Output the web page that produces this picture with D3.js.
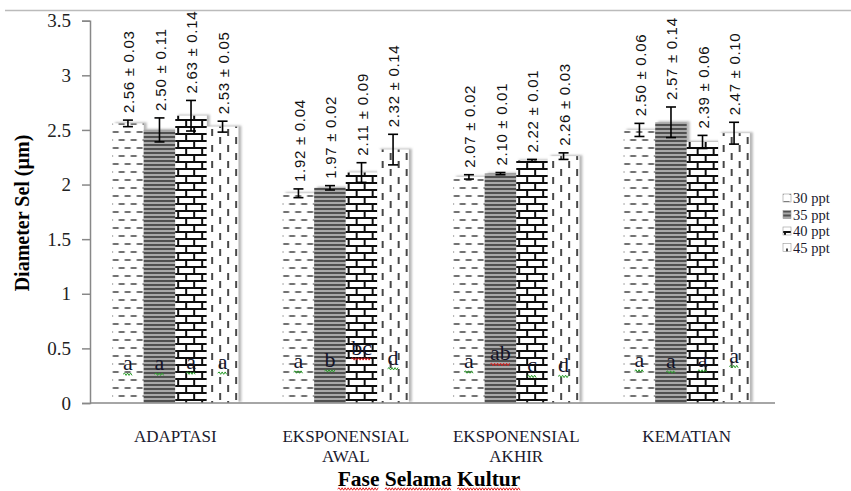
<!DOCTYPE html>
<html><head><meta charset="utf-8">
<script src="https://cdn.jsdelivr.net/npm/d3@7"></script>
<style>body{margin:0;background:#fff}svg{display:block}</style>
</head><body>
<svg id="c" width="851" height="491"></svg>
<script>
// ---- data ----
const categories = ["ADAPTASI", "EKSPONENSIAL AWAL", "EKSPONENSIAL AKHIR", "KEMATIAN"];
const seriesNames = ["30 ppt", "35 ppt", "40 ppt", "45 ppt"];
const mean30 = [2.56, 1.92, 2.07, 2.50];
const mean35 = [2.50, 1.97, 2.10, 2.57];
const mean40 = [2.63, 2.11, 2.22, 2.39];
const mean45 = [2.53, 2.32, 2.26, 2.47];
const err30 = [0.03, 0.04, 0.02, 0.06];
const err35 = [0.11, 0.02, 0.01, 0.14];
const err40 = [0.14, 0.09, 0.01, 0.06];
const err45 = [0.05, 0.14, 0.03, 0.10];
const let30 = ["a", "a", "a", "a"];
const let35 = ["a", "b", "ab", "a"];
const let40 = ["a", "bc", "c", "a"];
const let45 = ["a", "d", "d", "a"];
const yTickValues = [0, 0.5, 1, 1.5, 2, 2.5, 3, 3.5];
const yTickLabels = ["0", "0.5", "1", "1.5", "2", "2.5", "3", "3.5"];
const yTitle = "Diameter Sel (µm)";
const xTitle = "Fase Selama Kultur";

// ---- layout (not data) ----
const letterLevel = [ // baseline height of significance letters, in axis units
  [0.30, 0.30, 0.31, 0.31], [0.32, 0.33, 0.44, 0.35],
  [0.32, 0.39, 0.28, 0.28], [0.33, 0.32, 0.33, 0.37]];

const means = [mean30, mean35, mean40, mean45];
const errs = [err30, err35, err40, err45];
const lets = [let30, let35, let40, let45];
const patIds = ["p30", "p35", "p40", "p45"];

const svg = d3.select("#c");
const X0 = 90, X1 = 772, Y0 = 403, Y1 = 20.7;

const defs = svg.append("defs");
// 30 ppt: dashed horizontal
let p = defs.append("pattern").attr("id", "p30").attr("patternUnits", "userSpaceOnUse").attr("width", 12).attr("height", 16);
p.append("rect").attr("width", 12).attr("height", 16).attr("fill", "#fff");
p.append("path").attr("d", "M0.5,4H6.5M6.5,12H12M0,12H0.5").attr("stroke", "#444").attr("stroke-width", 1.7);
// 35 ppt: narrow horizontal
p = defs.append("pattern").attr("id", "p35").attr("patternUnits", "userSpaceOnUse").attr("width", 8).attr("height", 4);
p.append("rect").attr("width", 8).attr("height", 4).attr("fill", "#a8a8a8");
p.append("line").attr("x1", 0).attr("x2", 8).attr("y1", 1).attr("y2", 1).attr("stroke", "#3a3a3a").attr("stroke-width", 1.6);
// 40 ppt: brick
p = defs.append("pattern").attr("id", "p40").attr("patternUnits", "userSpaceOnUse").attr("width", 16).attr("height", 14);
p.append("rect").attr("width", 16).attr("height", 14).attr("fill", "#fff");
p.append("path").attr("d", "M0,1H16M0,8H16M2,1V8M10,8V14").attr("stroke", "#111").attr("stroke-width", 2).attr("fill", "none");
// 45 ppt: dashed vertical
p = defs.append("pattern").attr("id", "p45").attr("patternUnits", "userSpaceOnUse").attr("width", 16).attr("height", 16);
p.append("rect").attr("width", 16).attr("height", 16).attr("fill", "#fff");
p.append("line").attr("x1", 4).attr("x2", 4).attr("y1", 1).attr("y2", 8).attr("stroke", "#333").attr("stroke-width", 1.8);
p.append("line").attr("x1", 12).attr("x2", 12).attr("y1", 9).attr("y2", 16).attr("stroke", "#333").attr("stroke-width", 1.8);

const f = defs.append("filter").attr("id", "sh").attr("x", "-10%").attr("y", "-10%").attr("width", "130%").attr("height", "120%");
f.append("feDropShadow").attr("dx", 3).attr("dy", -1).attr("stdDeviation", 1.2).attr("flood-color", "#888").attr("flood-opacity", 0.6);

// top border line
svg.append("line").attr("x1", 5).attr("x2", 851).attr("y1", 10.5).attr("y2", 10.5).attr("stroke", "#bbb").attr("stroke-width", 1.5);

const x0 = d3.scaleBand().domain(categories).range([X0, X1]).paddingInner(0.26).paddingOuter(0.13);
const x1 = d3.scaleBand().domain(seriesNames).range([0, x0.bandwidth()]);
const y = d3.scaleLinear().domain([0, 3.5]).range([Y0, Y1]);

// y axis
const yAxis = svg.append("g").attr("transform", `translate(${X0},0)`)
  .call(d3.axisLeft(y).tickValues(yTickValues).tickFormat((d, i) => yTickLabels[i]).tickSize(8).tickPadding(11));
yAxis.select(".domain").attr("stroke", "#888").attr("stroke-width", 1.5);
yAxis.selectAll(".tick line").attr("stroke", "#888").attr("stroke-width", 1.5);
yAxis.selectAll("text").attr("font-family", "Liberation Serif").attr("font-size", 19).attr("fill", "#222");

function squiggle(g, xa, xb, yy, col) {
  let d = `M${xa},${yy}`, up = true;
  for (let xx = xa + 1.5; xx <= xb + 0.01; xx += 1.5) { d += `L${xx},${yy + (up ? -1.2 : 1.2)}`; up = !up; }
  g.append("path").attr("d", d).attr("fill", "none").attr("stroke", col).attr("stroke-width", 1);
}

// bars
const groups = svg.append("g").selectAll("g").data(categories).join("g")
  .attr("transform", d => `translate(${x0(d)},0)`);
groups.each(function(cat, ci) {
  const g = d3.select(this);
  const bars = g.append("g").attr("filter", "url(#sh)");
  seriesNames.forEach((s, si) => {
    bars.append("rect").attr("x", x1(s)).attr("width", x1.bandwidth())
      .attr("y", y(means[si][ci])).attr("height", Y0 - y(means[si][ci]))
      .attr("fill", `url(#${patIds[si]})`);
  });
  seriesNames.forEach((s, si) => {
    const cx = x1(s) + x1.bandwidth() / 2;
    const v = means[si][ci], e = errs[si][ci];
    const eb = g.append("g").attr("stroke", "#000").attr("stroke-width", 1.6);
    eb.append("line").attr("x1", cx).attr("x2", cx).attr("y1", y(v - e)).attr("y2", y(v + e));
    eb.append("line").attr("x1", cx - 5).attr("x2", cx + 5).attr("y1", y(v - e)).attr("y2", y(v - e));
    eb.append("line").attr("x1", cx - 5).attr("x2", cx + 5).attr("y1", y(v + e)).attr("y2", y(v + e));
    // value label
    const ly = y(v + e) - 7;
    g.append("text").attr("transform", `translate(${cx + 1},${ly}) rotate(-90)`)
      .attr("dy", "0.35em").attr("font-family", "Liberation Sans").attr("font-size", 15)
      .attr("textLength", 82).attr("lengthAdjust", "spacing")
      .attr("fill", "#111").text(d3.format(".2f")(v) + " ± " + d3.format(".2f")(e));
    // significance letter
    const lt = lets[si][ci];
    const by = y(letterLevel[ci][si]);
    const t = g.append("text").attr("x", cx).attr("y", by).attr("text-anchor", "middle")
      .attr("font-family", "Liberation Serif").attr("font-size", 22).attr("fill", "#14142a").text(lt);
    const w = t.node().getComputedTextLength();
    squiggle(g, cx - w / 2, cx + w / 2, by + 4, lt.length > 1 ? "#e02020" : "#2a9d2a");
  });
});

// x axis line
svg.append("line").attr("x1", X0).attr("x2", 775).attr("y1", Y0).attr("y2", Y0).attr("stroke", "#888").attr("stroke-width", 1.5);

// category labels
categories.forEach(c => {
  const parts = c.split(" ");
  const t = svg.append("text").attr("text-anchor", "middle").attr("font-family", "Liberation Serif")
    .attr("font-size", 17).attr("fill", "#1a1a2e");
  parts.forEach((pt, i) => t.append("tspan").attr("x", x0(c) + x0.bandwidth() / 2).attr("y", 441.5 + i * 20).text(pt));
});

// axis titles
svg.append("text").attr("transform", "translate(29,213) rotate(-90)").attr("text-anchor", "middle")
  .attr("font-family", "Liberation Serif").attr("font-weight", "bold").attr("font-size", 20).text(yTitle);
const xt = svg.append("text").attr("x", 429).attr("y", 486).attr("text-anchor", "middle")
  .attr("font-family", "Liberation Serif").attr("font-weight", "bold").attr("font-size", 21.5).text(xTitle);
{
  const node = xt.node(); const txt = xTitle; let start = 0;
  txt.split(" ").forEach(wd => {
    const s = txt.indexOf(wd, start); start = s + wd.length;
    const a = node.getStartPositionOfChar(s).x, b = node.getEndPositionOfChar(s + wd.length - 1).x;
    squiggle(svg, a, b, 489, "#e02020");
  });
}

// legend
const lg = svg.append("g").attr("transform", "translate(783,198)");
seriesNames.forEach((s, i) => {
  const r = lg.append("g").attr("transform", `translate(0,${i * 16.5})`);
  r.append("rect").attr("x", 0).attr("y", -4).attr("width", 8).attr("height", 8).attr("fill", `url(#${patIds[i]})`).attr("stroke", "#999").attr("stroke-width", 0.6);
  r.append("text").attr("x", 10).attr("y", 0).attr("dy", "0.35em").attr("font-family", "Liberation Serif")
    .attr("font-size", 14.5).attr("fill", "#1a1a2e").text(s);
});
</script>
</body></html>
